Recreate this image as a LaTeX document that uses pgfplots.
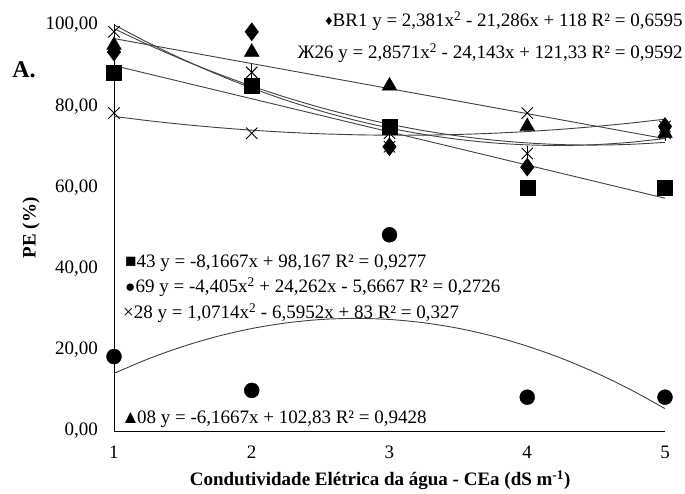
\documentclass[border=0pt]{standalone}
\usepackage{fontspec}
\setmainfont{Liberation Serif}
\usepackage{pgfplots}
\pgfplotsset{compat=1.18}
\usepackage{pgfplotstable}

% measured data (x = CEa, dS m^-1)
\pgfplotstableread{
x  BR   ZH     T08    S43    C69    X28
1  93.33 98.33 95.00  88.33  18.33  78.33
2  98.33 88.33 93.33  85.00  10.00  73.33
3  70.00 73.33 85.00  75.00  48.33  70.00
4  65.00 68.33 75.00  60.00   8.33  78.33
5  75.00 73.33 73.33  60.00   8.33  75.00
}\datatable

% trend lines as displayed by their equations
\pgfplotstableread{
x    BR     ZH      X28     C69
1.00 99.095 100.044 77.476  14.190
1.25 95.113 95.616  76.430  17.778
1.50 91.428 91.544  75.518  20.815
1.75 88.041 87.830  74.740  23.302
2.00 84.952 84.472  74.095  25.237
2.25 82.160 81.472  73.585  26.623
2.50 79.666 78.829  73.208  27.457
2.75 77.470 76.544  72.966  27.741
3.00 75.571 74.615  72.857  27.474
3.25 73.970 73.043  72.882  26.657
3.50 72.666 71.829  73.042  25.289
3.75 71.660 70.972  73.335  23.370
4.00 70.952 70.472  73.762  20.901
4.25 70.541 70.329  74.323  17.882
4.50 70.428 70.543  75.018  14.311
4.75 70.613 71.114  75.846  10.190
5.00 71.095 72.043  76.809   5.518
}\trendtable

\pgfplotstableread{
x  S43    T08
1  90.000 96.663
5  57.333 71.997
}\lintable

\begin{document}
\begin{tikzpicture}
\begin{axis}[
  at={(0pt,0pt)}, anchor=south west,
  width=551pt, height=406pt, scale only axis,
  xmin=1, xmax=5, ymin=0, ymax=100,
  axis lines=left, axis line style={-, line width=0.8pt, black},
  xtick={1,2,3,4,5}, ytick={0,20,40,60,80,100},
  major tick length=0pt,
  clip=false,
  tick label style={font=\fontsize{19}{22}\selectfont},
  /pgf/number format/assume math mode=true,
  yticklabel style={/pgf/number format/.cd, fixed, fixed zerofill, precision=2, use comma, /tikz/.cd, inner sep=0pt, xshift=-16pt},
  xticklabel style={inner sep=0pt, yshift=-15pt},
  xlabel={\textbf{Condutividade Elétrica da água - CEa (dS m\textsuperscript{-1})}},
  xlabel style={font=\fontsize{19}{22}\selectfont, at={(axis description cs:0.483,-0.1207)}, anchor=center},
  ylabel={\textbf{PE (\%)}},
  ylabel style={font=\fontsize{19}{22}\selectfont, at={(axis description cs:-0.1506,0.5)}, anchor=center},
]
% trend lines
\addplot[black!75, line width=0.9pt, smooth, no marks] table[x=x, y=BR] {\trendtable};
\addplot[black!75, line width=0.9pt, smooth, no marks] table[x=x, y=ZH] {\trendtable};
\addplot[black!75, line width=0.9pt, smooth, no marks] table[x=x, y=X28] {\trendtable};
\addplot[black!75, line width=0.9pt, smooth, no marks] table[x=x, y=C69] {\trendtable};
\addplot[black!75, line width=0.9pt, no marks] table[x=x, y=S43] {\lintable};
\addplot[black!75, line width=0.9pt, no marks] table[x=x, y=T08] {\lintable};
% markers
\addplot[only marks, mark=*, mark size=7.5pt, black] table[x=x, y=C69] {\datatable};
\addplot[only marks, mark=square*, mark size=7.5pt, black] table[x=x, y=S43] {\datatable};
\addplot[only marks, mark=triangle*, mark size=8.5pt, black] table[x=x, y=T08] {\datatable};
\addplot[only marks, mark=diamond*, mark size=9pt, black] table[x=x, y=BR] {\datatable};
\addplot[only marks, mark=x, mark size=8pt, black, mark options={line width=0.9pt}] table[x=x, y=X28] {\datatable};
\addplot[only marks, mark=x, mark size=8pt, black, mark options={line width=0.9pt}] table[x=x, y=ZH] {\datatable};
\addplot[only marks, mark=|, mark size=8pt, black, mark options={line width=0.9pt}] table[x=x, y=ZH] {\datatable};
% equation labels
\node[anchor=east, inner sep=0pt, font=\fontsize{19}{22}\selectfont] at (axis cs:5.129,101)
  {\raisebox{0.1ex}{\scalebox{0.75}{♦}}BR1 y = 2,381x\textsuperscript{2} - 21,286x + 118 R² = 0,6595};
\node[anchor=east, inner sep=0pt, font=\fontsize{19}{22}\selectfont] at (axis cs:5.129,93.1)
  {Ж26 y = 2,8571x\textsuperscript{2} - 24,143x + 121,33 R² = 0,9592};
\node[anchor=west, inner sep=0pt, font=\fontsize{19}{22}\selectfont] at (axis cs:1.08,41.4)
  {■43 y = -8,1667x + 98,167 R² = 0,9277};
\node[anchor=west, inner sep=0pt, font=\fontsize{19}{22}\selectfont] at (axis cs:1.08,35.5)
  {\scalebox{0.9}{●}69 y = -4,405x\textsuperscript{2} + 24,262x - 5,6667 R² = 0,2726};
\node[anchor=west, inner sep=0pt, font=\fontsize{19}{22}\selectfont] at (axis cs:1.065,29.1)
  {×28 y = 1,0714x\textsuperscript{2} - 6,5952x + 83 R² = 0,327};
\node[anchor=west, inner sep=0pt, font=\fontsize{19}{22}\selectfont] at (axis cs:1.05,3.0)
  {▲\kern-0.15em08 y = -6,1667x + 102,83 R² = 0,9428};
\node[anchor=center, inner sep=0pt, font=\fontsize{24}{28}\selectfont\bfseries] at (axis cs:0.347,88.9) {A.};
\end{axis}
\pgfresetboundingbox
\path (-114pt,-62pt) rectangle (571pt,431pt);
\end{tikzpicture}
\end{document}
